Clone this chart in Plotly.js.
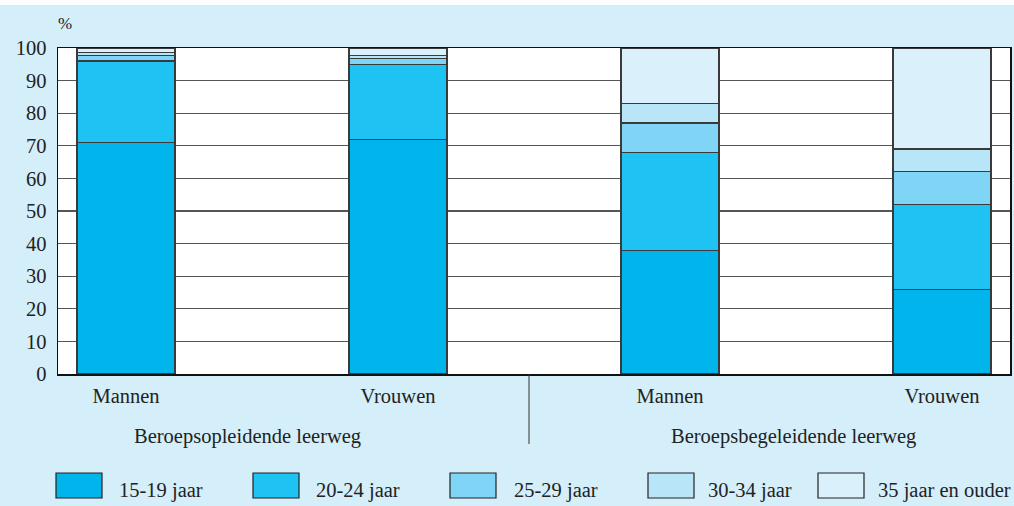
<!DOCTYPE html>
<html><head><meta charset="utf-8">
<script src="https://cdn.plot.ly/plotly-3.0.1.min.js"></script>
<style>html,body{margin:0;padding:0;background:#d4eefa;}#chart{width:1014px;height:506px;}</style>
</head><body><div id="chart"></div>
<script>
// ---- data ----
const barLabels = ["Mannen", "Vrouwen", "Mannen", "Vrouwen"];
const groupLabels = ["Beroepsopleidende leerweg", "Beroepsbegeleidende leerweg"];
const seriesNames = ["15-19 jaar", "20-24 jaar", "25-29 jaar", "30-34 jaar", "35 jaar en ouder"];
const age15_19 = [71, 72, 38, 26];
const age20_24 = [25, 23, 30, 26];
const age25_29 = [1.6, 1.7, 9, 10];
const age30_34 = [1.0, 1.0, 6, 7];
const age35plus = [1.4, 2.3, 17, 31];
const yTicks = [0, 10, 20, 30, 40, 50, 60, 70, 80, 90, 100];

// ---- style ----
const colors = ["#00b4ec", "#1fc3f3", "#80d4f6", "#b9e5f8", "#daf0fb"];
const allSeries = [age15_19, age20_24, age25_29, age30_34, age35plus];
const FONT = "Liberation Serif, Times New Roman, serif";
const FS = 20.5;
const L = 58, R = 1010, T = 48, B = 374;
const px = v => (v - L) / (R - L);
const py = v => (B - v) / (B - T);
const xpos = barLabels.map((_, i) => i);

const traces = allSeries.map((vals, k) => ({
  type: "bar", x: xpos, y: vals, name: seriesNames[k], width: 0.36,
  marker: {color: colors[k], line: {color: "#3a3a3a", width: 1.2}},
  showlegend: false, hoverinfo: "y+name"
}));

const shapes = [];
const annotations = [];
// separator between groups
shapes.push({type: "line", xref: "paper", yref: "paper", x0: px(529), x1: px(529), y0: 0, y1: py(444),
  line: {color: "#333", width: 1}});
// white strip at top
shapes.push({type: "rect", xref: "paper", yref: "paper", x0: px(0), x1: px(1014), y0: py(5), y1: py(0),
  fillcolor: "#ffffff", line: {width: 0}, layer: "below"});
// group labels
const groupCenters = [247, 793];
groupLabels.forEach((g, i) => annotations.push({text: g, xref: "paper", yref: "paper", x: px(groupCenters[i]), y: py(436),
  showarrow: false, font: {family: FONT, size: FS, color: "#222"}, xanchor: "center", yanchor: "middle"}));
// % label
annotations.push({text: "%", xref: "paper", yref: "paper", x: px(65), y: py(23), showarrow: false,
  font: {family: FONT, size: 17, color: "#222"}, xanchor: "center", yanchor: "middle"});
// legend
const boxX = [56, 253, 450, 648, 818];
const textX = [117, 314, 512, 706, 876];
seriesNames.forEach((n, k) => {
  shapes.push({type: "rect", xref: "paper", yref: "paper", x0: px(boxX[k]), x1: px(boxX[k] + 46),
    y0: py(498), y1: py(473), fillcolor: colors[k], line: {color: "#222", width: 1.2}});
  annotations.push({text: n, xref: "paper", yref: "paper", x: px(textX[k]), y: py(490), showarrow: false,
    font: {family: FONT, size: FS, color: "#222"}, xanchor: "left", yanchor: "middle"});
});

const layout = {
  width: 1014, height: 506,
  margin: {l: L, r: 1014 - R, t: T, b: 506 - B, pad: 0},
  paper_bgcolor: "#d4eefa", plot_bgcolor: "#ffffff",
  barmode: "stack", showlegend: false,
  xaxis: {range: [-0.25, 3.25], tickvals: xpos, ticktext: barLabels, showgrid: false, zeroline: false,
    showline: true, mirror: true, linecolor: "#111", linewidth: 1.5, ticks: "",
    tickfont: {family: FONT, size: FS, color: "#222"}, ticklabelstandoff: 3},
  yaxis: {range: [0, 100], tickvals: yTicks, showgrid: true, gridcolor: "#555", gridwidth: 1.3,
    zeroline: false, showline: true, mirror: true, linecolor: "#111", linewidth: 1.5, ticks: "",
    tickfont: {family: FONT, size: FS, color: "#222"}, ticklabelstandoff: 6},
  shapes: shapes, annotations: annotations
};
Plotly.newPlot("chart", traces, layout, {displayModeBar: false, staticPlot: true});
</script></body></html>
